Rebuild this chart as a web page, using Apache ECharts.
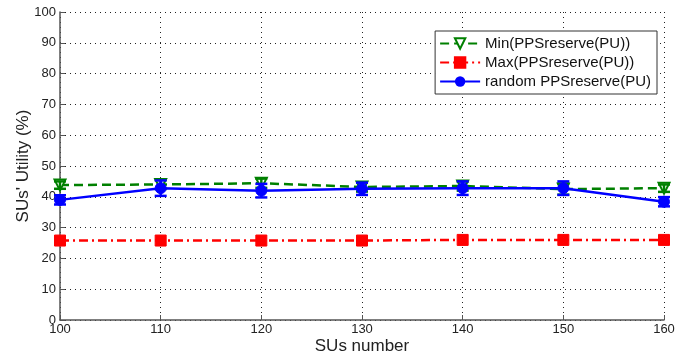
<!DOCTYPE html>
<html>
<head>
<meta charset="utf-8">
<script src="https://cdn.jsdelivr.net/npm/echarts@6/dist/echarts.min.js"></script>
<style>html,body{margin:0;padding:0;background:#fff}#c{width:678px;height:358px}</style>
</head>
<body>
<div id="c"></div>
<script>
var suNumbers = [100, 110, 120, 130, 140, 150, 160];
var minReserve = [43.8, 44.0, 44.4, 43.2, 43.5, 42.5, 42.8];
var minErr = [1.2, 1.5, 1.5, 1.5, 1.5, 1.8, 1.2];
var maxReserve = [25.8, 25.8, 25.8, 25.8, 26.0, 26.0, 26.0];
var randomReserve = [39.0, 42.8, 42.0, 42.6, 42.8, 42.8, 38.4];
var randomErr = [1.5, 2.5, 2.2, 2.0, 2.2, 2.2, 1.5];
var yTicks = [0, 10, 20, 30, 40, 50, 60, 70, 80, 90, 100];
var xTicks = [100, 110, 120, 130, 140, 150, 160];

function pairs(ys) { return suNumbers.map(function (x, i) { return [x, ys[i]]; }); }
function errData(ys, es) { return suNumbers.map(function (x, i) { return [x, ys[i] - es[i], ys[i] + es[i]]; }); }
function errSeries(ys, es, color) {
  return {
    type: 'custom', silent: true, z: 5,
    data: errData(ys, es),
    renderItem: function (params, api) {
      var lo = api.coord([api.value(0), api.value(1)]);
      var hi = api.coord([api.value(0), api.value(2)]);
      var w = 6;
      var st = { stroke: color, lineWidth: 2.5 };
      return { type: 'group', children: [
        { type: 'line', shape: { x1: lo[0], y1: lo[1], x2: hi[0], y2: hi[1] }, style: st },
        { type: 'line', shape: { x1: lo[0] - w, y1: lo[1], x2: lo[0] + w, y2: lo[1] }, style: st },
        { type: 'line', shape: { x1: hi[0] - w, y1: hi[1], x2: hi[0] + w, y2: hi[1] }, style: st }
      ]};
    }
  };
}

var chart = echarts.init(document.getElementById('c'));
var font = 'Liberation Sans, Arial, sans-serif';
chart.setOption({
  animation: false,
  grid: { left: 60, right: 14, top: 12, bottom: 38, containLabel: false, outerBoundsMode: 'none' },
  xAxis: {
    type: 'value', min: xTicks[0], max: xTicks[xTicks.length - 1], interval: 10,
    name: 'SUs number', nameLocation: 'middle', nameGap: 18, nameMoveOverlap: false,
    nameTextStyle: { fontSize: 17, color: '#222', fontFamily: font },
    axisLine: { lineStyle: { color: '#555', width: 1.5 } },
    axisTick: { inside: true, length: 5, lineStyle: { color: '#555' } },
    axisLabel: { fontSize: 13, color: '#222', fontFamily: font, margin: 3 },
    splitLine: { show: true, lineStyle: { type: [1, 4], color: '#222', width: 1 } }
  },
  yAxis: {
    type: 'value', min: yTicks[0], max: yTicks[yTicks.length - 1], interval: 10,
    name: "SUs' Utility (%)", nameLocation: 'middle', nameGap: 28, nameMoveOverlap: false,
    nameTextStyle: { fontSize: 17, color: '#222', fontFamily: font },
    axisLine: { show: true, lineStyle: { color: '#555', width: 1.5 } },
    axisTick: { show: true, inside: true, length: 5, lineStyle: { color: '#555' } },
    axisLabel: { fontSize: 13, color: '#222', fontFamily: font, margin: 4 },
    splitLine: { show: true, lineStyle: { type: [1, 4], color: '#222', width: 1 } }
  },
  legend: {
    right: 21, top: 31, orient: 'vertical',
    backgroundColor: '#fff', borderColor: '#333', borderWidth: 1,
    padding: [5, 6, 5, 4], itemGap: 4, itemWidth: 40, itemHeight: 13,
    textStyle: { fontSize: 15, color: '#111', fontFamily: font },
    data: ['Min(PPSreserve(PU))', 'Max(PPSreserve(PU))', 'random PPSreserve(PU)']
  },
  series: [
    errSeries(minReserve, minErr, '#008000'),
    errSeries(randomReserve, randomErr, '#0000ff'),
    {
      name: 'Min(PPSreserve(PU))', type: 'line', data: pairs(minReserve), z: 4,
      symbol: 'triangle', symbolRotate: 180, symbolSize: 11,
      itemStyle: { color: '#fff', borderColor: '#008000', borderWidth: 2 },
      lineStyle: { color: '#008000', width: 2.5, type: [9, 5] }
    },
    {
      name: 'Max(PPSreserve(PU))', type: 'line', data: pairs(maxReserve), z: 4,
      symbol: 'rect', symbolSize: 11,
      itemStyle: { color: '#ff0000', borderColor: '#ff0000', borderWidth: 1 },
      lineStyle: { color: '#ff0000', width: 2.5, type: [9, 4, 2, 4] }
    },
    {
      name: 'random PPSreserve(PU)', type: 'line', data: pairs(randomReserve), z: 6,
      symbol: 'circle', symbolSize: 11,
      itemStyle: { color: '#0000ff', borderColor: '#0000ff' },
      lineStyle: { color: '#0000ff', width: 2.5 }
    }
  ]
});
</script>
</body>
</html>
